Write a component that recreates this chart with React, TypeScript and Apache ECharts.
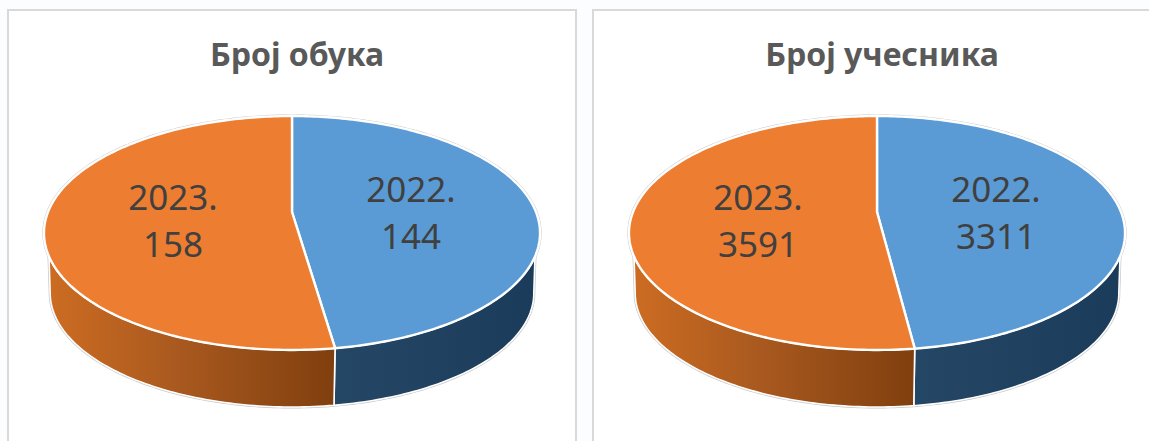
import React, { useEffect, useRef } from "react";
import * as echarts from "echarts";

const categories = ["2022.", "2023."];
const trainings = [144, 158];
const participants = [3311, 3591];
const titles = ["Број обука", "Број учесника"];

const FONT = "'Noto Sans', 'Open Sans', sans-serif";
const TOP_COLORS = ["#5B9BD5", "#ED7D31"];
const WALL_STOPS = [
  [
    [0, "#254766"],
    [0.5, "#20415F"],
    [1, "#1B3B5A"],
  ],
  [
    [0, "#CC6C22"],
    [0.45, "#A9591F"],
    [1, "#803F0E"],
  ],
];

const K = 0.1795;
const A = 244;
const B = 113.2;
const APEX_Y = 212;
const WALL_SCALE = 0.975;
const WALL_BOTTOM = 407;
const TOP_CLAMP = [111.5, 248.5];
const BOTTOM_CLAMP = [99.9, 260.1];

function rimPoint(cx: number, deg: number, scale: number, cy: number) {
  const t = (deg * Math.PI) / 180;
  const X = Math.sin(t);
  const Y = -Math.cos(t);
  const w = 1 - K * Y;
  return [cx + (A * scale * X) / w, cy + (B * scale * Y) / w];
}

function rim(cx: number, from: number, to: number, scale: number, cy: number) {
  const n = Math.max(2, Math.ceil(Math.abs(to - from)));
  const pts: number[][] = [];
  for (let i = 0; i <= n; i++) pts.push(rimPoint(cx, from + ((to - from) * i) / n, scale, cy));
  return pts;
}

const wallCy = WALL_BOTTOM - (B * WALL_SCALE) / (1 - K);

function sliceRange(values: number[], i: number) {
  const total = values.reduce((a, b) => a + b, 0);
  const before = values.slice(0, i).reduce((a, b) => a + b, 0);
  return [(before / total) * 360, ((before + values[i]) / total) * 360];
}

function clampRange(r: number[], c: number[]) {
  return [Math.max(r[0], c[0]), Math.min(r[1], c[1])];
}

function wallSeries(values: number[], cx: number) {
  return {
    type: "custom",
    coordinateSystem: "none",
    z: 2,
    silent: true,
    data: values.map((v) => [v]),
    renderItem: (params: any) => {
      const i = params.dataIndex;
      const range = sliceRange(values, i);
      const [tf, tt] = clampRange(range, TOP_CLAMP);
      const [bf, bt] = clampRange(range, BOTTOM_CLAMP);
      const top = rim(cx, tf, tt, 1, APEX_Y);
      const bottom = rim(cx, bf, bt, WALL_SCALE, wallCy);
      const backRim = rim(cx, range[0], range[1], 1, APEX_Y);
      const outline = i === 0 ? [top[0], ...bottom] : [...bottom, top[top.length - 1]];
      return {
        type: "group",
        children: [
          {
            type: "polyline",
            shape: { points: outline },
            style: { fill: "none", stroke: "#C8C8C8", lineWidth: 3 },
          },
          {
            type: "polyline",
            shape: { points: backRim },
            style: { fill: "none", stroke: "#C8C8C8", lineWidth: 3.2 },
          },
          {
            type: "polygon",
            shape: { points: [...top, ...bottom.slice().reverse()] },
            style: {
              fill: new echarts.graphic.LinearGradient(
                0,
                0,
                1,
                0,
                WALL_STOPS[i].map(([offset, color]) => ({ offset, color })) as any
              ),
              stroke: "#FFFFFF",
              lineWidth: 1.6,
            },
          },
        ],
      };
    },
  };
}

function topSeries(values: number[], cx: number) {
  return {
    type: "custom",
    coordinateSystem: "none",
    z: 3,
    silent: true,
    data: values.map((v) => [v]),
    renderItem: (params: any) => {
      const i = params.dataIndex;
      const [from, to] = sliceRange(values, i);
      const pts = [[cx, APEX_Y], ...rim(cx, from, to, 1, APEX_Y)];
      return {
        type: "polygon",
        shape: { points: pts },
        style: { fill: TOP_COLORS[i], stroke: "#FFFFFF", lineWidth: 2.4, lineJoin: "round" },
      };
    },
  };
}

function labelSeries(values: number[], cx: number) {
  return {
    type: "custom",
    coordinateSystem: "none",
    z: 4,
    silent: true,
    data: values.map((v) => [v]),
    renderItem: (params: any, api: any) => {
      const i = params.dataIndex;
      return {
        type: "text",
        x: cx + (i === 0 ? 119 : -119),
        y: i === 0 ? 212 : 220,
        style: {
          text: `${categories[i]}\n${api.value(0)}`,
          fontFamily: FONT,
          fontSize: 35,
          lineHeight: 47,
          fill: "#404040",
          align: "center",
          verticalAlign: "middle",
        },
      };
    },
  };
}

export default function App() {
  const ref = useRef<HTMLDivElement>(null);
  useEffect(() => {
    document.body.style.margin = "0";
    const chart = echarts.init(ref.current!, undefined, { renderer: "svg" });
    const titleStyle = { fontFamily: FONT, fontSize: 32, fontWeight: "bold" as const, color: "#595959" };
    chart.setOption({
      animation: false,
      backgroundColor: "#FBFDFE",
      title: [
        { text: titles[0], left: 292, top: 32, textAlign: "center", textStyle: titleStyle },
        { text: titles[1], left: 877, top: 32, textAlign: "center", textStyle: titleStyle },
      ],
      graphic: [
        {
          type: "rect",
          z: 0,
          silent: true,
          shape: { x: 8, y: 10, width: 568, height: 450 },
          style: { fill: "#FFFFFF", stroke: "#D9D9D9", lineWidth: 2 },
        },
        {
          type: "rect",
          z: 0,
          silent: true,
          shape: { x: 593, y: 10, width: 570, height: 450 },
          style: { fill: "#FFFFFF", stroke: "#D9D9D9", lineWidth: 2 },
        },
      ],
      series: [
        wallSeries(trainings, 292),
        topSeries(trainings, 292),
        labelSeries(trainings, 292),
        wallSeries(participants, 877),
        topSeries(participants, 877),
        labelSeries(participants, 877),
      ],
    });
    return () => chart.dispose();
  }, []);
  return <div ref={ref} style={{ position: "fixed", left: 0, top: 0, width: 1149, height: 441 }} />;
}
